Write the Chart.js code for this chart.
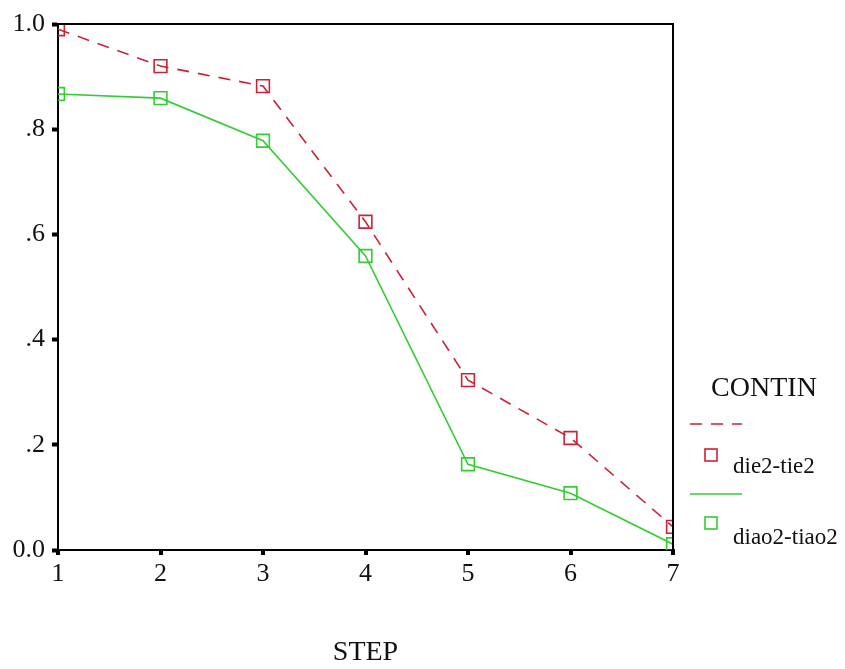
<!DOCTYPE html>
<html>
<head>
<meta charset="utf-8">
<script src="https://cdn.jsdelivr.net/npm/chart.js@4/dist/chart.umd.min.js"></script>
<style>
  html, body { margin: 0; padding: 0; background: #fff; }
  #wrap { width: 845px; height: 669px; position: relative; }
</style>
</head>
<body>
<div id="wrap"><canvas id="c" width="845" height="669"></canvas></div>
<script>
// ---- data ----
const categories = ['1', '2', '3', '4', '5', '6', '7'];
const seriesNames = ['die2-tie2', 'diao2-tiao2'];
const dieTie = [0.99, 0.92, 0.882, 0.624, 0.323, 0.213, 0.044];
const diaoTiao = [0.867, 0.859, 0.778, 0.559, 0.163, 0.108, 0.011];
const yTickLabels = ['0.0', '.2', '.4', '.6', '.8', '1.0'];
const legendTitle = 'CONTIN';
const xTitle = 'STEP';

const RED = '#cc2236';
const GREEN = '#33cc33';
const FONT = '"Liberation Serif", "Times New Roman", serif';

const boxPlugin = {
  id: 'box',
  afterDatasetsDraw(chart) {
    const { ctx, chartArea: a } = chart;
    ctx.save();
    ctx.strokeStyle = '#000';
    ctx.lineWidth = 2;
    ctx.beginPath();
    ctx.moveTo(a.left, a.top);
    ctx.lineTo(a.right, a.top);
    ctx.lineTo(a.right, a.bottom);
    ctx.stroke();
    ctx.restore();
  }
};

const legendPlugin = {
  id: 'customLegend',
  afterDraw(chart) {
    const ctx = chart.ctx;
    const ds = chart.data.datasets;
    ctx.save();
    ctx.fillStyle = '#111';
    ctx.font = '28px ' + FONT;
    ctx.textBaseline = 'middle';
    ctx.textAlign = 'center';
    ctx.fillText(legendTitle, 764, 389);
    const rows = [{ lineY: 424, sqY: 455, textY: 467 }, { lineY: 494, sqY: 523, textY: 538 }];
    ds.forEach((d, i) => {
      const r = rows[i];
      ctx.strokeStyle = d.borderColor;
      ctx.lineWidth = 1.6;
      ctx.setLineDash(d.borderDash || []);
      ctx.beginPath();
      ctx.moveTo(690, r.lineY);
      ctx.lineTo(742, r.lineY);
      ctx.stroke();
      ctx.setLineDash([]);
      ctx.lineWidth = 1.6;
      ctx.strokeRect(705, r.sqY - 6, 12, 12);
      ctx.fillStyle = '#111';
      ctx.textAlign = 'left';
      ctx.font = '23px ' + FONT;
      ctx.fillText(d.label, 733, r.textY);
    });
    ctx.restore();
  }
};

new Chart(document.getElementById('c'), {
  type: 'line',
  data: {
    labels: categories,
    datasets: [
      {
        label: seriesNames[0],
        data: dieTie,
        borderColor: RED,
        borderWidth: 1.6,
        borderDash: [12, 9],
        pointStyle: 'rect',
        pointRadius: 9,
        pointBorderWidth: 1.6,
        pointBorderColor: RED,
        pointBackgroundColor: 'rgba(0,0,0,0)',
        tension: 0,
        fill: false,
        clip: 0
      },
      {
        label: seriesNames[1],
        data: diaoTiao,
        borderColor: GREEN,
        borderWidth: 1.6,
        pointStyle: 'rect',
        pointRadius: 9,
        pointBorderWidth: 1.6,
        pointBorderColor: GREEN,
        pointBackgroundColor: 'rgba(0,0,0,0)',
        tension: 0,
        fill: false,
        clip: 0
      }
    ]
  },
  options: {
    responsive: false,
    animation: false,
    layout: { padding: { left: 0, top: 24, right: 172, bottom: 0 } },
    plugins: { legend: { display: false }, tooltip: { enabled: false } },
    scales: {
      x: {
        offset: false,
        border: { display: true, color: '#000', width: 2 },
        grid: { display: true, drawOnChartArea: false, color: '#000', tickLength: 5, lineWidth: 4, tickWidth: 4, tickColor: '#000' },
        ticks: { color: '#111', font: { family: FONT, size: 26 }, padding: 4, maxRotation: 0 },
        title: { display: true, text: xTitle, color: '#111', font: { family: FONT, size: 28 }, padding: { top: 0, bottom: 0 } },
        afterFit(scale) { scale.height = 119; }
      },
      y: {
        min: 0,
        max: 1,
        border: { display: true, color: '#000', width: 2 },
        grid: { display: true, drawOnChartArea: false, color: '#000', tickLength: 6, tickWidth: 4, tickColor: '#000' },
        ticks: {
          stepSize: 0.2,
          color: '#111',
          font: { family: FONT, size: 26 },
          padding: 7,
          callback: (v, i) => yTickLabels[i]
        },
        afterFit(scale) { scale.width = 58; }
      }
    }
  },
  plugins: [boxPlugin, legendPlugin]
});
</script>
</body>
</html>
